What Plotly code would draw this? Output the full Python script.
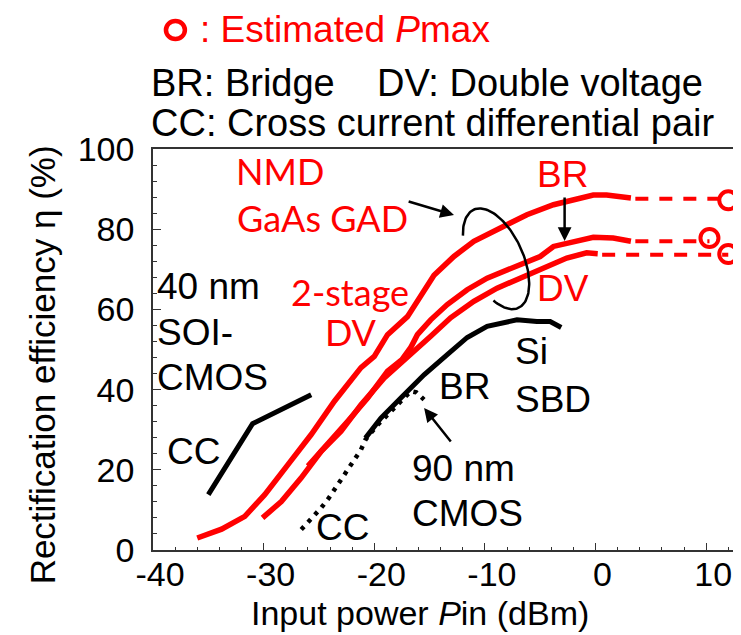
import numpy as np
import plotly.graph_objects as go

# ---------------- data ----------------
# NMD GaAs GAD, upper red curve
gad_top_p = [-36.0, -33.8, -31.7, -29.9, -27.8, -25.7, -23.6, -21.2, -20.0, -18.8, -17.0,
             -15.8, -14.6, -12.8, -11.0, -8.6, -6.2, -3.8, -2.0, -0.2, 1.0, 2.2, 3.2]
gad_top_eta = [3.0, 5.2, 8.4, 13.8, 21.3, 28.8, 37.1, 45.5, 48.3, 53.7, 58.2,
               63.5, 68.5, 73.2, 77.0, 80.3, 83.6, 86.1, 87.4, 88.5, 88.5, 88.0, 87.8]
# NMD GaAs GAD, middle red curve (BR)
gad_mid_p = [-26.0, -24.2, -22.4, -20.6, -18.8, -17.5, -16.7, -16.1, -14.9, -13.4, -11.6,
             -9.8, -8.0, -6.2, -5.0, -3.8, -2.0, -0.2, 1.6, 3.2]
gad_mid_eta = [20.9, 26.3, 32.1, 37.9, 44.6, 47.5, 50.5, 53.7, 57.4, 61.2, 64.9,
               67.8, 69.9, 72.0, 73.2, 75.7, 77.0, 78.0, 77.8, 77.0]
# NMD GaAs GAD, lower red curve (DV)
gad_low_p = [-30.1, -28.4, -26.6, -24.8, -23.0, -21.2, -19.1, -17.0, -14.9, -13.1, -11.0,
             -8.9, -6.8, -4.7, -2.6, -0.8, 0.2]
gad_low_eta = [8.0, 12.1, 18.0, 24.6, 29.6, 36.2, 42.9, 47.9, 53.3, 57.9, 62.0,
               65.3, 67.8, 70.3, 72.8, 74.1, 73.9]
# Estimated Pmax (dashed extrapolation end points)
pmax_p = [12.0, 10.3, 12.0]
pmax_eta = [87.2, 77.8, 73.8]
dash_eta = [87.6, 77.0, 73.6]
# Si SBD bridge
sbd_p = [-20.8, -19.4, -17.6, -15.5, -13.4, -11.6, -9.8, -7.1, -5.3, -4.1, -3.1]
sbd_eta = [27.9, 32.9, 37.9, 43.7, 48.7, 53.0, 55.8, 57.4, 57.0, 57.0, 55.5]
# 90 nm CMOS cross current (dotted)
cmos90_p = [-26.6, -25.6, -24.8, -24.1, -23.5, -22.6, -21.8, -21.2, -20.8, -19.7, -18.8,
            -17.6, -16.7, -16.2, -15.5]
cmos90_eta = [5.1, 8.0, 10.5, 13.0, 15.5, 19.2, 22.1, 25.0, 27.5, 31.2, 33.7,
              37.1, 39.6, 39.3, 37.5]
# 40 nm SOI-CMOS cross current
soi_p = [-35.0, -31.0, -25.7]
soi_eta = [13.8, 31.5, 38.7]

x_ticks = [-40, -30, -20, -10, 0, 10]
y_ticks = [0, 20, 40, 60, 80, 100]

# ---------------- geometry helpers ----------------
W, H = 741, 635
L, R, T, B = 145, 0, 141, 93
X0, X1 = -40.0, -40.0 + (W - L - R) / 11.1
Y0, Y1 = 0.0, 100.0
pw, ph = W - L - R, H - T - B


def px2x(px):
    return X0 + (px - L) / pw * (X1 - X0)


def py2y(py):
    return Y0 + (H - B - py) / ph * (Y1 - Y0)


def px2paper(px):
    return (px - L) / pw


def py2paper(py):
    return (H - B - py) / ph


RED = "#ff0000"
ARIAL = "Arial, Liberation Sans, sans-serif"
CAL = "Lato, Open Sans, sans-serif"

fig = go.Figure()


def line(x, y, color, width, dash="solid"):
    fig.add_trace(go.Scatter(x=x, y=y, mode="lines", showlegend=False, hoverinfo="skip",
                             line=dict(color=color, width=width, dash=dash),
                             cliponaxis=False))


# solid curves
line(gad_top_p, gad_top_eta, RED, 5.5)
line(gad_mid_p, gad_mid_eta, RED, 5.5)
line(gad_low_p, gad_low_eta, RED, 5.5)
line(soi_p, soi_eta, "black", 5)
line(sbd_p, sbd_eta, "black", 5)
line(cmos90_p, cmos90_eta, "black", 4.5, dash="4px,6px")

# dashed extrapolations to Pmax
ends = [(gad_top_p[-1], dash_eta[0], pmax_p[0]),
        (gad_mid_p[-1], dash_eta[1], pmax_p[1]),
        (gad_low_p[-1], dash_eta[2], pmax_p[2])]
for x_start, yv, x_end in ends:
    line([x_start + 0.4, x_end], [yv, yv], RED, 4, dash="13px,11px")

# Pmax circles
fig.add_trace(go.Scatter(x=pmax_p, y=pmax_eta, mode="markers", showlegend=False,
                         hoverinfo="skip", cliponaxis=False,
                         marker=dict(symbol="circle-open", size=18, color=RED,
                                     line=dict(color=RED, width=4))))

# ellipse (annotation), open on the lower-left
cx, cy, a, b = 489.2, 250.8, 54.0, 27.0
u = np.array([0.416, 0.909])
n = np.array([0.909, -0.416])
t = np.linspace(4.01, -0.82, 120)
ex = cx + a * np.cos(t) * u[0] + b * np.sin(t) * n[0]
ey = cy + a * np.cos(t) * u[1] + b * np.sin(t) * n[1]
line([px2x(v) for v in ex], [py2y(v) for v in ey], "black", 2.5)

annotations = []


def label(text, px, py, color="black", family=ARIAL, size=37, anchor="center"):
    annotations.append(dict(text=text, x=px2x(px), y=py2y(py), xref="x", yref="y",
                            showarrow=False, xanchor=anchor, yanchor="middle",
                            font=dict(family=family, size=size, color=color)))


# red (GaAs) labels
label("NMD", 272, 163, RED, CAL, 36)
label("GaAs GAD", 315, 210, RED, CAL, 36)
label("2-stage", 343, 284, RED, CAL, 36)
label("DV", 344, 324, RED, CAL, 36)
label("BR", 556, 166, RED)
label("DV", 556, 280, RED)
# black labels
label("40 nm", 147, 278, anchor="left")
label("SOI-", 147, 324, anchor="left")
label("CMOS", 147, 369, anchor="left")
label("CC", 186, 443)
label("BR", 458, 378)
label("Si", 506, 343, anchor="left")
label("SBD", 506, 391, anchor="left")
label("90 nm", 403, 460, anchor="left")
label("CMOS", 403, 505, anchor="left")
label("CC", 335, 519)


def arrow(tail, head):
    annotations.append(dict(x=px2x(head[0]), y=py2y(head[1]), ax=px2x(tail[0]), ay=py2y(tail[1]),
                            xref="x", yref="y", axref="x", ayref="y", text="", showarrow=True,
                            arrowhead=2, arrowsize=1.1, arrowwidth=2.5, arrowcolor="black"))


arrow((400, 193), (447, 207))
arrow((558, 188), (558, 233))
arrow((445, 435), (417, 400))

# header texts
nb = "\u00a0"
annotations.append(dict(text=": Estimated <i>P</i>max", x=px2paper(190), y=py2paper(22),
                        xref="paper", yref="paper", showarrow=False, xanchor="left",
                        yanchor="middle", font=dict(family=ARIAL, size=37, color=RED)))
annotations.append(dict(text="BR: Bridge" + nb * 4 + "DV: Double voltage", x=px2paper(141),
                        y=py2paper(75), xref="paper", yref="paper", showarrow=False,
                        xanchor="left", yanchor="middle",
                        font=dict(family=ARIAL, size=38, color="black")))
annotations.append(dict(text="CC: Cross current differential pair", x=px2paper(141),
                        y=py2paper(115), xref="paper", yref="paper", showarrow=False,
                        xanchor="left", yanchor="middle",
                        font=dict(family=ARIAL, size=38, color="black")))
# axis titles
annotations.append(dict(text="Input power <i>P</i>in (dBm)", x=px2paper(413), y=py2paper(605),
                        xref="paper", yref="paper", showarrow=False, xanchor="center",
                        yanchor="middle", font=dict(family=ARIAL, size=34, color="black")))
annotations.append(dict(text="Rectification efficiency \u03b7 (%)", x=px2paper(34),
                        y=py2paper(357), xref="paper", yref="paper", showarrow=False,
                        xanchor="center", yanchor="middle", textangle=-90,
                        font=dict(family=ARIAL, size=35, color="black")))

shapes = [dict(type="circle", xref="paper", yref="paper",
               x0=px2paper(158), x1=px2paper(177), y0=py2paper(13), y1=py2paper(31),
               line=dict(color=RED, width=4.5))]

axis_common = dict(showline=True, linecolor="#333", linewidth=1.5, mirror=True,
                   ticks="inside", tickcolor="#333", showgrid=False, zeroline=False,
                   tickfont=dict(family=ARIAL, size=34, color="black"))

fig.update_layout(
    width=W, height=H, autosize=False,
    margin=dict(l=L, r=R, t=T, b=B),
    paper_bgcolor="white", plot_bgcolor="white",
    showlegend=False,
    annotations=annotations, shapes=shapes,
    xaxis=dict(range=[X0, X1], tickvals=x_ticks, ticktext=[str(v) for v in x_ticks],
               ticklen=7, tickwidth=1.2,
               minor=dict(dtick=2, ticks="inside", ticklen=3, tickcolor="#333"),
               ticklabelshift=7, ticklabelstandoff=-7, **axis_common),
    yaxis=dict(range=[Y0, Y1], tickvals=y_ticks, ticktext=[str(v) for v in y_ticks],
               ticklen=8, tickwidth=1.2,
               minor=dict(dtick=4, ticks="inside", ticklen=4, tickcolor="#333"),
               ticklabelstandoff=10, **axis_common),
)

fig.write_html("out.html")
